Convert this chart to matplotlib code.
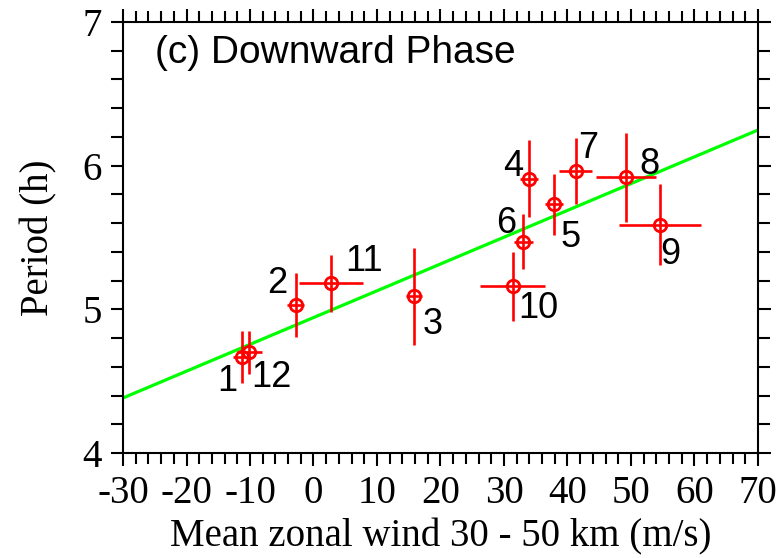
import matplotlib
matplotlib.use('Agg')
import matplotlib.pyplot as plt
from matplotlib.ticker import MultipleLocator

plt.rcParams['axes.unicode_minus'] = False

# monthly values, downward phase
month = [1, 2, 3, 4, 5, 6, 7, 8, 9, 10, 11, 12]
wind = [-11.3, -2.8, 15.8, 33.9, 37.9, 33.0, 41.3, 49.2, 54.6, 31.4, 2.8, -10.1]
wind_err = [1.3, 1.3, 1.3, 1.4, 1.4, 1.5, 2.6, 4.7, 6.5, 5.1, 5.05, 2.0]
period = [4.67, 5.03, 5.09, 5.91, 5.73, 5.47, 5.96, 5.92, 5.59, 5.16, 5.18, 4.70]
period_err = [0.18, 0.22, 0.34, 0.27, 0.21, 0.19, 0.23, 0.31, 0.28, 0.24, 0.20, 0.15]

# linear fit  period = a + b * wind
fit_a = 4.9425
fit_b = 0.01865

# label offsets (pixels) for the month numbers
lab_off = [(-14, -25), (-18, 22), (19, -28), (-16, 12), (16, -33), (-17, 18),
           (12, 23), (24, 13), (10, -30), (25, -22), (33, 22), (22, -25)]

fig = plt.figure(figsize=(7.84, 5.58), dpi=100)
ax = fig.add_axes([0.1569, 0.1882, 0.8099, 0.7724])

xs = [-30, 70]
ax.plot(xs, [fit_a + fit_b * x for x in xs], color='#00ff00', lw=2.3, zorder=1)

ax.errorbar(wind, period, xerr=wind_err, yerr=period_err, fmt='o', color='red',
            ecolor='red', elinewidth=1.9, capsize=0, markersize=9,
            markerfacecolor='none', markeredgewidth=2, zorder=2)

for m, x, y, off in zip(month, wind, period, lab_off):
    ax.annotate(str(m), (x, y), xytext=off, textcoords='offset pixels',
                ha='center', va='center', fontsize=26, family='Liberation Sans')

ax.text(0.05, 0.905, '(c) Downward Phase', transform=ax.transAxes,
        fontsize=28, family='Liberation Sans', va='baseline', ha='left')

ax.set_xlim(-30, 70)
ax.set_ylim(4, 7)
ax.xaxis.set_major_locator(MultipleLocator(10))
ax.xaxis.set_minor_locator(MultipleLocator(2))
ax.yaxis.set_major_locator(MultipleLocator(1))
ax.yaxis.set_minor_locator(MultipleLocator(0.2))

ax.tick_params(which='both', direction='out', top=True, right=True, width=1.5)
ax.tick_params(axis='x', which='major', length=9.5, pad=6)
ax.tick_params(axis='x', which='minor', length=8)
ax.tick_params(axis='y', which='major', length=9, pad=6)
ax.tick_params(axis='y', which='minor', length=8.5)
for lab in ax.get_xticklabels() + ax.get_yticklabels():
    lab.set_family('Liberation Serif')
    lab.set_fontsize(28)
for sp in ax.spines.values():
    sp.set_linewidth(1.5)

ax.set_xlabel('Mean zonal wind 30 - 50 km (m/s)', family='Liberation Serif', fontsize=28, labelpad=5)
ax.set_ylabel('Period (h)', family='Liberation Serif', fontsize=28, labelpad=18)

fig.savefig('out.png', dpi=100)
